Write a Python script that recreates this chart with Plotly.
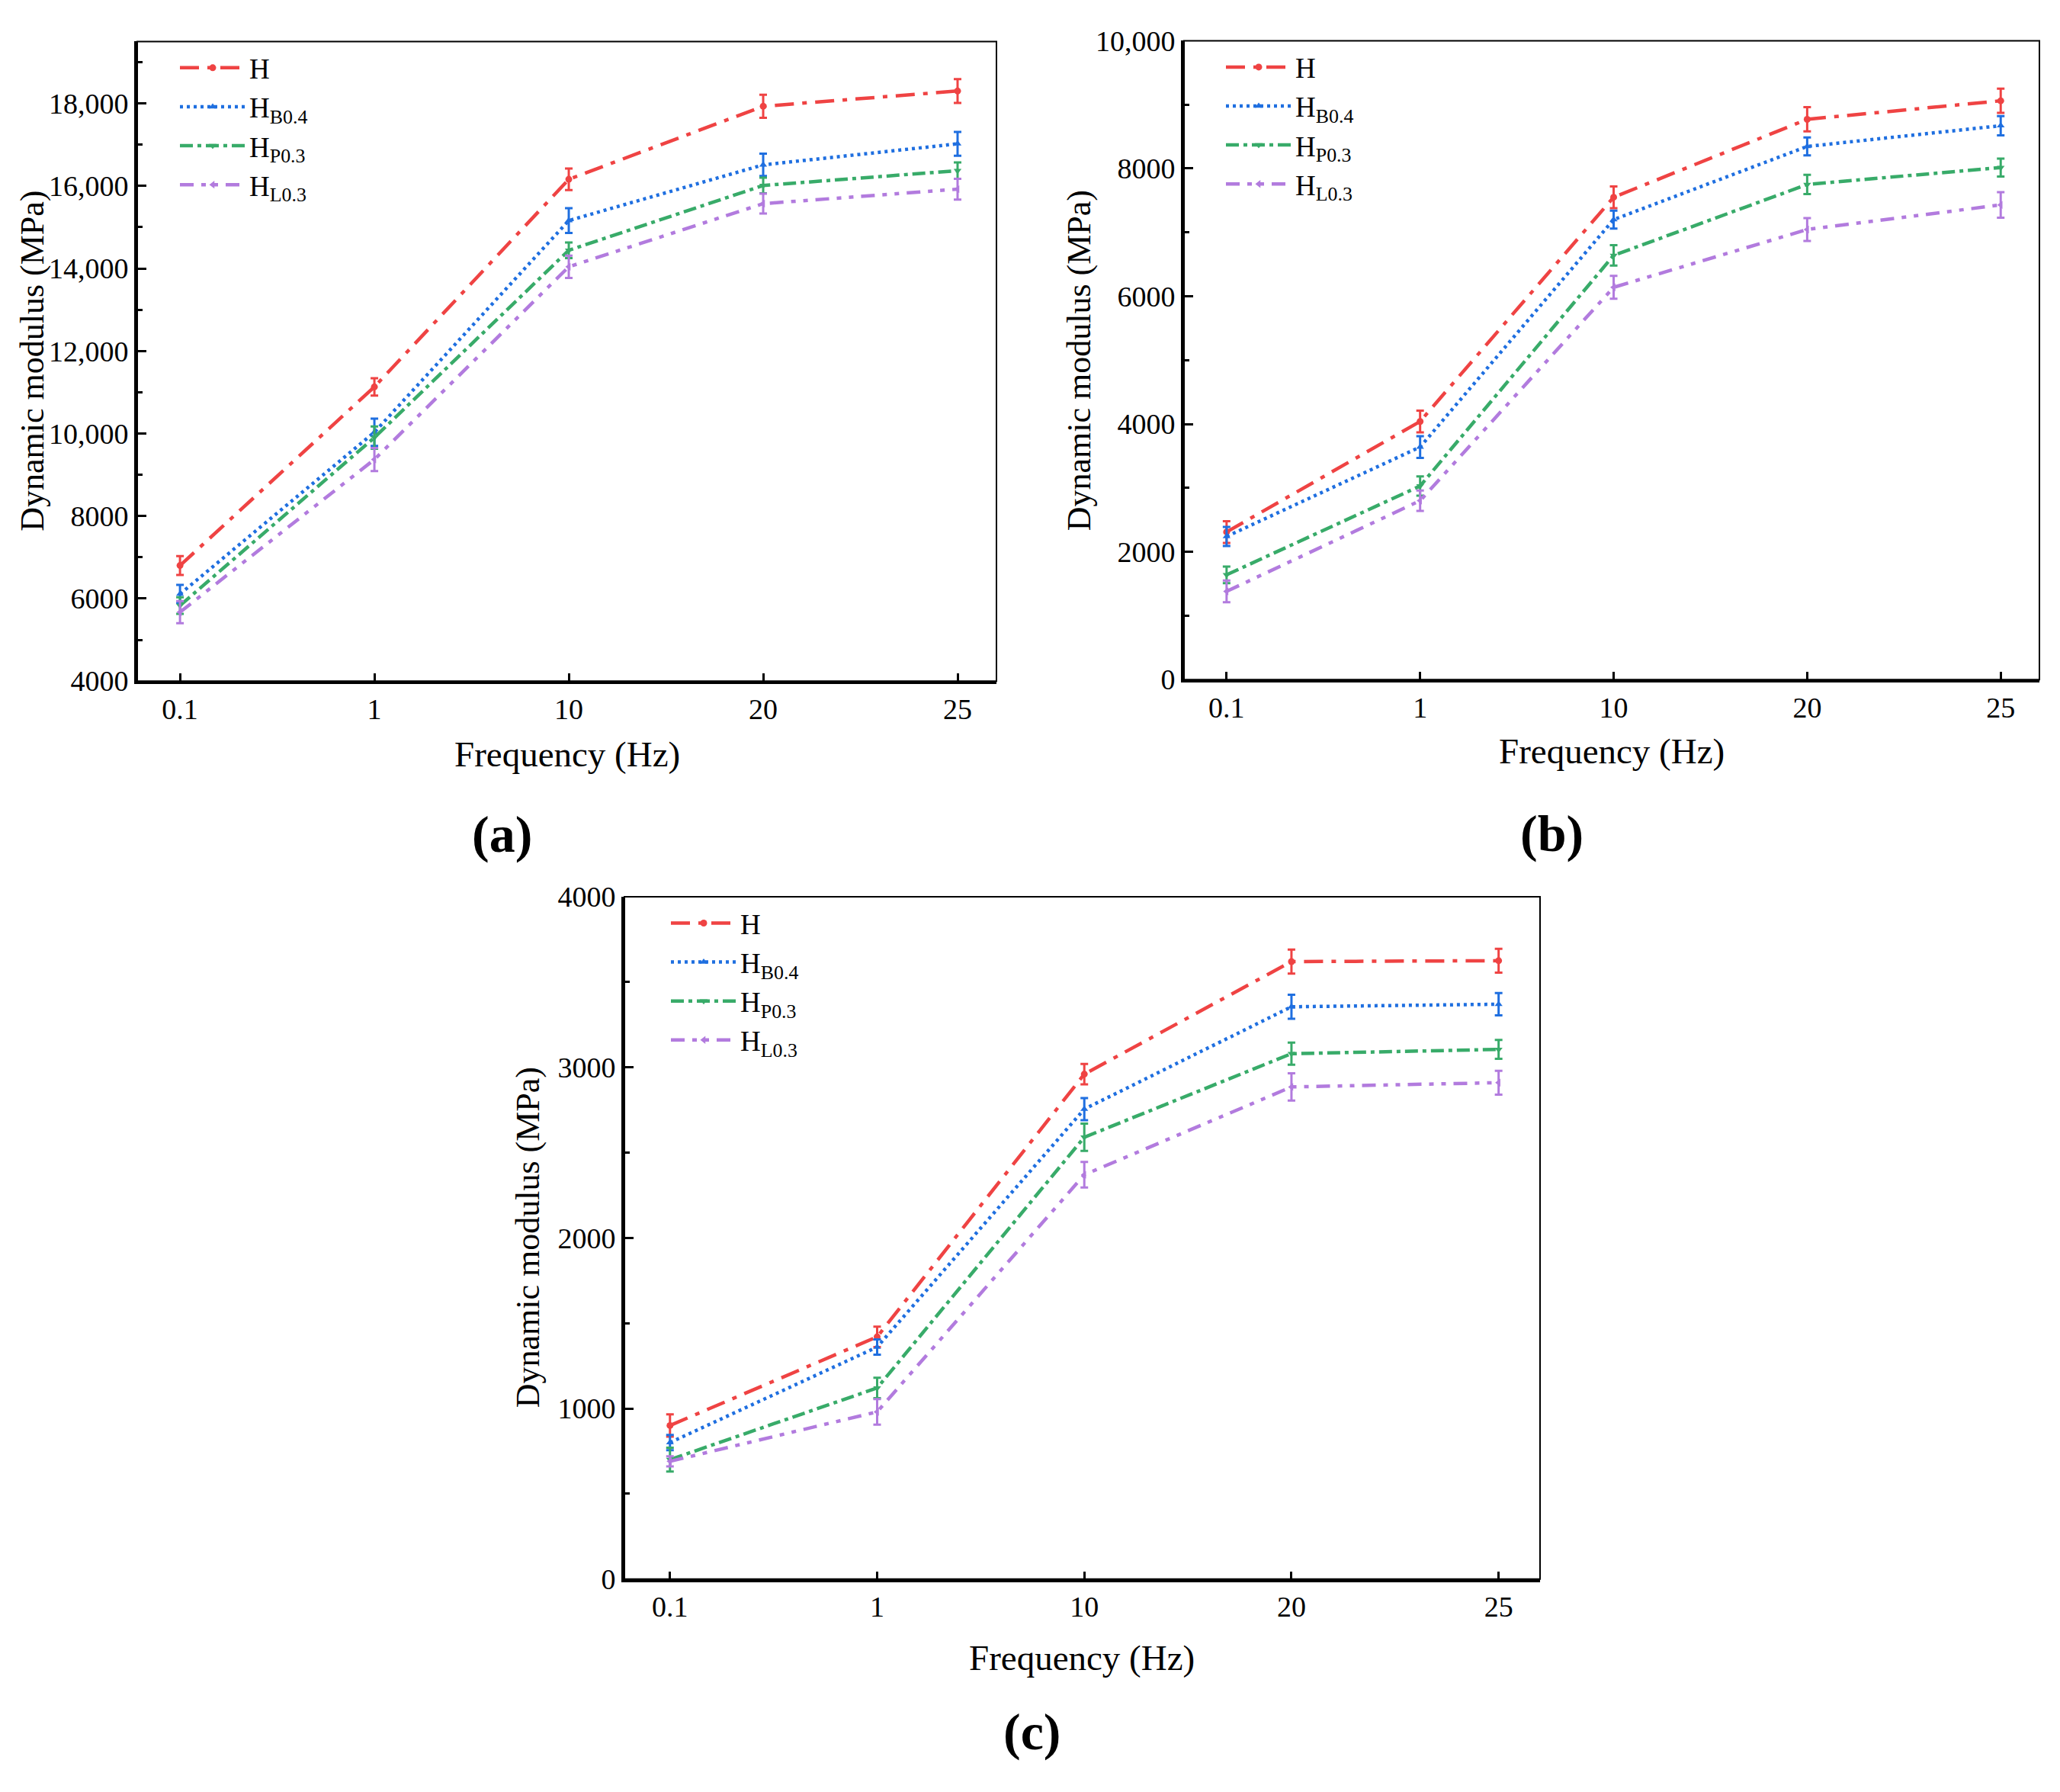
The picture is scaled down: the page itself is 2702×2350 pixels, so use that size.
import plotly.graph_objects as go

W, H = 2702, 2350
FONT = "Liberation Serif"

# ---- data ----
freq = ["0.1", "1", "10", "20", "25"]
series_names = ["H", "H<sub>B0.4</sub>", "H<sub>P0.3</sub>", "H<sub>L0.3</sub>"]

# (a)
a_H = [6800, 11130, 16160, 17930, 18300]
a_H_err = [230, 210, 260, 280, 290]
a_B = [6110, 10030, 15160, 16510, 17020]
a_B_err = [220, 330, 300, 270, 290]
a_P = [5830, 9900, 14440, 16010, 16370]
a_P_err = [200, 270, 190, 190, 200]
a_L = [5670, 9370, 14040, 15570, 15920]
a_L_err = [270, 280, 270, 240, 250]

# (b)
b_H = [2310, 4040, 7550, 8770, 9060]
b_H_err = [170, 170, 170, 190, 190]
b_B = [2240, 3640, 7200, 8345, 8670]
b_B_err = [150, 170, 140, 140, 150]
b_P = [1640, 3030, 6640, 7750, 8015]
b_P_err = [130, 150, 160, 150, 140]
b_L = [1380, 2800, 6140, 7045, 7430]
b_L_err = [170, 160, 180, 180, 200]

# (c)
c_H = [900, 1420, 2960, 3620, 3625]
c_H_err = [65, 60, 60, 70, 70]
c_B = [800, 1360, 2755, 3355, 3370]
c_B_err = [45, 45, 65, 70, 65]
c_P = [700, 1120, 2590, 3080, 3105]
c_P_err = [70, 60, 80, 65, 55]
c_L = [690, 980, 2370, 2885, 2910]
c_L_err = [30, 75, 75, 80, 70]

a_ticks = [4000, 6000, 8000, 10000, 12000, 14000, 16000, 18000]
a_minor = [5000, 7000, 9000, 11000, 13000, 15000, 17000, 19000]
b_ticks = [0, 2000, 4000, 6000, 8000, 10000]
b_minor = [1000, 3000, 5000, 7000, 9000]
c_ticks = [0, 1000, 2000, 3000, 4000]
c_minor = [500, 1500, 2500, 3500]

# ---- styles ----
colors = ["#EF4343", "#1F6FE0", "#38AB69", "#B27BDE"]
dashes = ["25px,11px,6px,11px", "4px,5px", "17px,6px,5px,6px", "18px,10px,6px,10px,6px,10px"]
symbols = ["circle", "triangle-up", "triangle-down", "triangle-left"]


def fmt(v):
    return f"{v:,}" if v >= 10000 else str(v)


def px(x):
    return x / W


def py(y):
    return 1 - y / H


fig = go.Figure()

panels = [
    ("x", "y", "legend", [(a_H, a_H_err), (a_B, a_B_err), (a_P, a_P_err), (a_L, a_L_err)]),
    ("x2", "y2", "legend2", [(b_H, b_H_err), (b_B, b_B_err), (b_P, b_P_err), (b_L, b_L_err)]),
    ("x3", "y3", "legend3", [(c_H, c_H_err), (c_B, c_B_err), (c_P, c_P_err), (c_L, c_L_err)]),
]

for xa, ya, lg, data in panels:
    for i, (vals, errs) in enumerate(data):
        fig.add_trace(go.Scatter(
            x=freq, y=vals, xaxis=xa, yaxis=ya, legend=lg,
            name=series_names[i], mode="lines+markers",
            line=dict(color=colors[i], width=4.5, dash=dashes[i]),
            marker=dict(symbol=symbols[i], size=9, color=colors[i]),
            error_y=dict(type="data", array=errs, color=colors[i], thickness=3, width=5),
        ))

# axis frames in pixels: left, right, top, bottom
frames = {
    "1": (180, 1307, 34, 888),
    "2": (1553, 2675, 33, 886),
    "3": (819, 2020, 1176, 2087),
}
yconf = {
    "1": ([4000, 19500], a_ticks, a_minor),
    "2": ([0, 10000], b_ticks, b_minor),
    "3": ([0, 4000], c_ticks, c_minor),
}
legend_dx = {"1": 51, "2": 50, "3": 56}

tickfont = dict(family=FONT, size=38, color="black")
layout = {}
for k, (l, r, t, b) in frames.items():
    sx = "" if k == "1" else k
    yr, tv, mv = yconf[k]
    layout["xaxis" + sx] = dict(
        domain=[px(l), px(r)], anchor="y" + sx, type="category",
        range=[-0.22, 4.2], showline=True, linewidth=4, linecolor="black",
        ticks="inside", ticklen=10, tickwidth=3, tickcolor="black",
        showgrid=False, zeroline=False, tickfont=tickfont, fixedrange=True,
    )
    layout["yaxis" + sx] = dict(
        domain=[py(b), py(t)], anchor="x" + sx, range=yr,
        tickmode="array", tickvals=tv, ticktext=[fmt(v) for v in tv],
        showline=True, linewidth=4, linecolor="black",
        ticks="inside", ticklen=12, tickwidth=3, tickcolor="black",
        minor=dict(tickmode="array", tickvals=mv, ticks="inside", ticklen=7,
                   tickwidth=3, tickcolor="black"),
        showgrid=False, zeroline=False, tickfont=tickfont, fixedrange=True,
    )

legfont = dict(family=FONT, size=37, color="black")
for lg, (k, (l, r, t, b)) in zip(["legend", "legend2", "legend3"], frames.items()):
    layout[lg] = dict(
        x=px(l + legend_dx[k]), y=py(t + 4), xanchor="left", yanchor="top",
        bgcolor="rgba(0,0,0,0)", font=legfont, itemwidth=86,
        tracegroupgap=0,
    )

shapes = []
for k in frames:
    sx = "" if k == "1" else k
    shapes.append(dict(type="rect", xref=f"x{sx} domain", yref=f"y{sx} domain",
                       x0=0, x1=1, y0=0, y1=1, line=dict(color="black", width=2),
                       layer="above"))

annotations = []
ytitles = [(43, 461), (1415, 459.5), (692, 1631.5)]
xtitles = [(743.5, 986), (2114, 982), (1419.5, 2192)]
labels = [("(a)", 658, 1093), ("(b)", 2035, 1091), ("(c)", 1353, 2291)]
for x, y in ytitles:
    annotations.append(dict(text="Dynamic modulus (MPa)", x=px(x), y=py(y), xref="paper",
                            yref="paper", showarrow=False, textangle=-90,
                            font=dict(family=FONT, size=44, color="black"),
                            xanchor="center", yanchor="middle"))
for x, y in xtitles:
    annotations.append(dict(text="Frequency (Hz)", x=px(x), y=py(y), xref="paper",
                            yref="paper", showarrow=False,
                            font=dict(family=FONT, size=47, color="black"),
                            xanchor="center", yanchor="middle"))
for txt, x, y in labels:
    annotations.append(dict(text=f"<b>{txt}</b>", x=px(x), y=py(y), xref="paper",
                            yref="paper", showarrow=False,
                            font=dict(family=FONT, size=68, color="black"),
                            xanchor="center", yanchor="middle"))

fig.update_layout(
    **layout,
    shapes=shapes,
    annotations=annotations,
    width=W, height=H,
    margin=dict(l=0, r=0, t=0, b=0),
    paper_bgcolor="white", plot_bgcolor="white",
    showlegend=True,
    font=dict(family=FONT, color="black"),
)

fig.write_html("out.html", config={"displayModeBar": False},
               post_script="document.body.style.margin='0';")
